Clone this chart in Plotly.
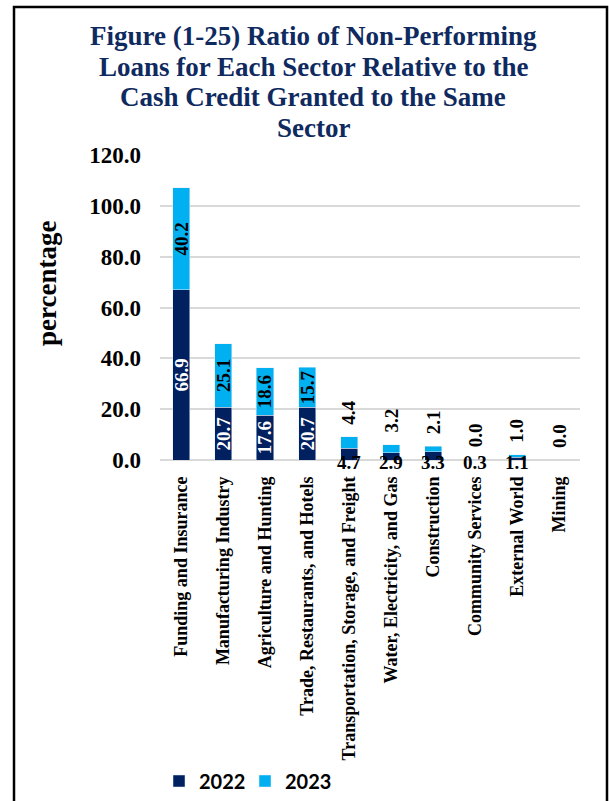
import plotly.graph_objects as go

categories = ["Funding and Insurance", "Manufacturing Industry", "Agriculture and Hunting",
              "Trade, Restaurants, and Hotels", "Transportation, Storage, and Freight",
              "Water, Electricity, and Gas", "Construction", "Community Services",
              "External World", "Mining"]
values_2022 = [66.9, 20.7, 17.6, 20.7, 4.7, 2.9, 3.3, 0.3, 1.1, 0.0]
values_2023 = [40.2, 25.1, 18.6, 15.7, 4.4, 3.2, 2.1, 0.0, 1.0, 0.0]
title_lines = ["Figure (1-25) Ratio of Non-Performing",
               "Loans for Each Sector Relative to the",
               "Cash Credit Granted to the Same",
               "Sector"]

NAVY = "#002060"
SKY = "#00B0F0"
SERIF = "Liberation Serif, Times New Roman, serif"

W, H = 609, 801
L, R, T, B = 160, 580, 155, 460  # plot area in pixels


def px_x(p):
    return (p - L) / (R - L)


def px_y(p):
    return (B - p) / (B - T)


INSIDE_MIN = 10  # values large enough for an inside label

text_2022 = [f"{v:.1f}" if v >= INSIDE_MIN else "" for v in values_2022]
text_2023 = [f"{v:.1f}" if v >= INSIDE_MIN else "" for v in values_2023]

fig = go.Figure()
fig.add_trace(go.Bar(
    x=categories, y=values_2022, name="2022", marker_color=NAVY,
    text=text_2022, textposition="inside", insidetextanchor="middle",
    textangle=-90, constraintext="none",
    textfont=dict(family=SERIF, size=19, color="white", weight="bold"),
))
fig.add_trace(go.Bar(
    x=categories, y=values_2023, name="2023", marker_color=SKY,
    text=text_2023, textposition="inside", insidetextanchor="middle",
    textangle=-90, constraintext="none",
    textfont=dict(family=SERIF, size=19, color="black", weight="bold"),
))

annotations = []
# small 2022 labels (horizontal, at the base)
for c, v in zip(categories, values_2022):
    if 0 < v < INSIDE_MIN:
        annotations.append(dict(
            x=c, y=0, xref="x", yref="y", text=f"{v:.1f}", showarrow=False,
            yanchor="middle", yshift=-2, borderpad=0,
            font=dict(family=SERIF, size=19, color="black", weight="bold")))
# small 2023 labels (rotated, above the stack)
for c, a, b in zip(categories, values_2022, values_2023):
    if b < INSIDE_MIN:
        annotations.append(dict(
            x=c, y=a + b, xref="x", yref="y", text=f"{b:.1f}", showarrow=False,
            textangle=-90, yanchor="bottom", yshift=11, borderpad=0,
            font=dict(family=SERIF, size=19, color="black", weight="bold")))
# title lines
for i, line in enumerate(title_lines):
    annotations.append(dict(
        x=px_x(313), y=px_y(36 + 30.5 * i), xref="paper", yref="paper",
        text=line, showarrow=False, xanchor="center", yanchor="middle",
        font=dict(family=SERIF, size=27, color="#0F2A5F", weight="bold")))
# y-axis title
annotations.append(dict(
    x=px_x(47), y=px_y(284), xref="paper", yref="paper", text="percentage",
    showarrow=False, textangle=-90, xanchor="center", yanchor="middle",
    font=dict(family=SERIF, size=27, color="black", weight="bold")))

fig.update_layout(
    width=W, height=H,
    margin=dict(l=L, r=W - R, t=T, b=H - B),
    paper_bgcolor="white", plot_bgcolor="white",
    barmode="stack", bargap=0.595,
    showlegend=True,
    legend=dict(orientation="h", xref="container", yref="container",
                x=159 / W, y=1 - 781 / H, xanchor="left", yanchor="middle",
                font=dict(family="Lato, sans-serif", size=20, color="black", weight="bold"),
                entrywidth=41, traceorder="normal"),
    annotations=annotations,
    shapes=[dict(type="rect", xref="paper", yref="paper",
                 x0=px_x(14), x1=px_x(607), y0=px_y(815), y1=px_y(7),
                 line=dict(color="black", width=2.5), layer="above")],
    hovermode=False,
)
fig.update_yaxes(range=[0, 120], dtick=20, tickformat=".1f", showgrid=True,
                 gridcolor="#D9D9D9", gridwidth=1.5, zeroline=True,
                 zerolinecolor="#D9D9D9", zerolinewidth=1.5, showline=False,
                 ticks="", ticklabelstandoff=18, automargin=False,
                 tickfont=dict(family=SERIF, size=23, color="black", weight="bold"))
fig.update_xaxes(tickangle=-90, showline=False, ticks="", ticklabelstandoff=12,
                 automargin=False,
                 tickfont=dict(family=SERIF, size=18, color="black", weight="bold"))

fig.write_html("out.html", config={"displayModeBar": False},
               post_script="document.body.style.margin='0px';")
